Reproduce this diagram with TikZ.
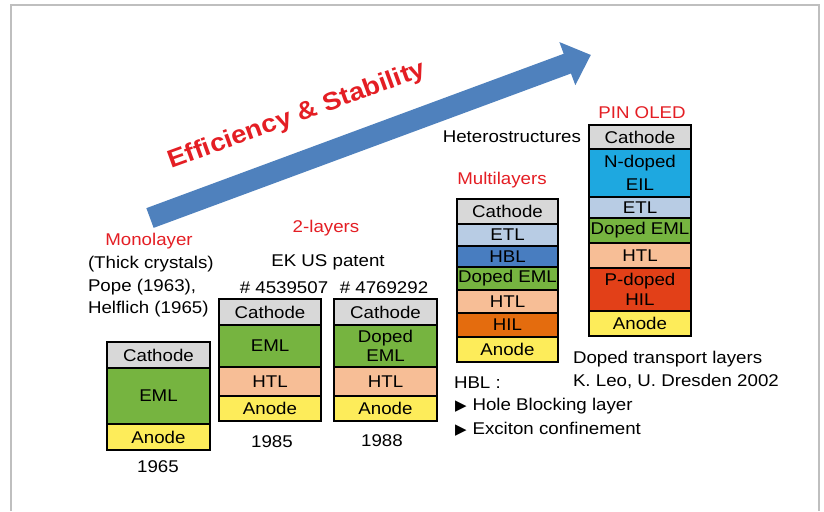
\documentclass[tikz,border=0pt]{standalone}
\usepackage{fontspec}
\setmainfont[FakeStretch=1.1]{Liberation Sans}
\newfontfamily\symfont{DejaVu Sans}
\definecolor{mred}{RGB}{228,30,36}
\definecolor{arrowblue}{RGB}{79,129,189}
\definecolor{cgray}{RGB}{216,216,216}
\definecolor{cgreen}{RGB}{118,180,64}
\definecolor{cpeach}{RGB}{247,190,150}
\definecolor{cyellow}{RGB}{253,236,90}
\definecolor{clblue}{RGB}{184,204,228}
\definecolor{cblue}{RGB}{72,125,192}
\definecolor{corange}{RGB}{228,108,14}
\definecolor{ccyan}{RGB}{30,168,224}
\definecolor{cred}{RGB}{226,64,24}
\tikzset{
  every node/.style={font=\fontsize{17}{20}\selectfont, inner sep=0pt, outer sep=0pt},
  lay/.style={draw=black, line width=2pt, rectangle, align=center},
  title/.style={text=mred},
  lbl/.style={text=black},
}
\newcommand\lyr[7]{%
  \node[lay, fill=#2, minimum width={(#5-#3)*1pt}, minimum height={(#6-#4)*1pt}]
    (#1) at ({(#3+#5)/2},{(#4+#6)/2}) {#7};}
\newcommand\tri{{\symfont\fontsize{15}{17}\selectfont ▶}}
\begin{document}
\begin{tikzpicture}[x=1pt,y=-1pt]
\useasboundingbox (0,0) rectangle (824,511);
\fill[white] (0,0) rectangle (824,511);
% frame
\draw[black!25, line width=1.5pt] (11,511) -- (11,5) -- (819,5) -- (819,511);
% arrow
\begin{scope}[shift={(150,218)}, rotate=20.3]
  \fill[arrowblue] (0,-10.5) -- (445,-10.5) -- (445,-23) -- (470,0) -- (445,23) -- (445,10.5) -- (0,10.5) -- cycle;
\end{scope}
\node[text=mred, rotate=20, font=\fontsize{25}{28}\selectfont\bfseries] (es) at (297,116) {Efficiency \& Stability};
% monolayer
\lyr{m1}{cgray}{107}{342}{210}{368}{Cathode}
\lyr{m2}{cgreen}{107}{368}{210}{424}{EML}
\lyr{m3}{cyellow}{107}{424}{210}{450}{Anode}
% two-layer A
\lyr{a1}{cgray}{219}{299}{321}{325}{Cathode}
\lyr{a2}{cgreen}{219}{325}{321}{367}{EML}
\lyr{a3}{cpeach}{219}{367}{321}{396}{HTL}
\lyr{a4}{cyellow}{219}{396}{321}{421}{Anode}
% two-layer B
\lyr{b1}{cgray}{334}{299}{437}{325}{Cathode}
\lyr{b2}{cgreen}{334}{325}{437}{367}{Doped\\[-1pt]EML}
\lyr{b3}{cpeach}{334}{367}{437}{396}{HTL}
\lyr{b4}{cyellow}{334}{396}{437}{421}{Anode}
% multilayer
\lyr{c1}{cgray}{457}{199}{558}{224}{Cathode}
\lyr{c2}{clblue}{457}{224}{558}{246}{ETL}
\lyr{c3}{cblue}{457}{246}{558}{267}{HBL}
\lyr{c4}{cgreen}{457}{267}{558}{290}{Doped EML}
\lyr{c5}{cpeach}{457}{290}{558}{313}{HTL}
\lyr{c6}{corange}{457}{313}{558}{337}{HIL}
\lyr{c7}{cyellow}{457}{337}{558}{362}{Anode}
% PIN OLED
\lyr{d1}{cgray}{589}{125}{691}{149}{Cathode}
\lyr{d2}{ccyan}{589}{149}{691}{197}{N-doped\\[3pt]EIL}
\lyr{d3}{clblue}{589}{197}{691}{218}{ETL}
\lyr{d4}{cgreen}{589}{218}{691}{243}{Doped EML}
\lyr{d5}{cpeach}{589}{243}{691}{268}{HTL}
\lyr{d6}{cred}{589}{268}{691}{311}{P-doped\\[0pt]HIL}
\lyr{d7}{cyellow}{589}{311}{691}{336}{Anode}
% labels
\node[title] (t1) at (149,241) {Monolayer};
\node[lbl, anchor=west] (l1) at (88,264) {(Thick crystals)};
\node[lbl, anchor=west] (l2) at (88,287) {Pope (1963),};
\node[lbl, anchor=west] (l3) at (88,309) {Helflich (1965)};
\node[lbl] (y1) at (158,467) {1965};
\node[title] (t2) at (326,228) {2-layers};
\node[lbl] (l4) at (328,262) {EK US patent};
\node[lbl] (l5) at (284,288) {\# 4539507};
\node[lbl] (l6) at (384,288) {\# 4769292};
\node[lbl] (y2) at (272,442) {1985};
\node[lbl] (y3) at (382,441) {1988};
\node[title] (t3) at (502,180) {Multilayers};
\node[lbl, anchor=east] (l7) at (581,137) {Heterostructures};
\node[title] (t4) at (642,113) {PIN OLED};
\node[lbl, anchor=west] (l8) at (573,359) {Doped transport layers};
\node[lbl, anchor=west] (l9) at (573,381) {K. Leo, U. Dresden 2002};
\node[lbl, anchor=west] (h0) at (454,383) {HBL :};
\node[lbl, anchor=west] (h1) at (455,406) {\tri\hspace{6pt}Hole Blocking layer};
\node[lbl, anchor=west] (h2) at (455,429) {\tri\hspace{6pt}Exciton confinement};
\end{tikzpicture}
\end{document}
